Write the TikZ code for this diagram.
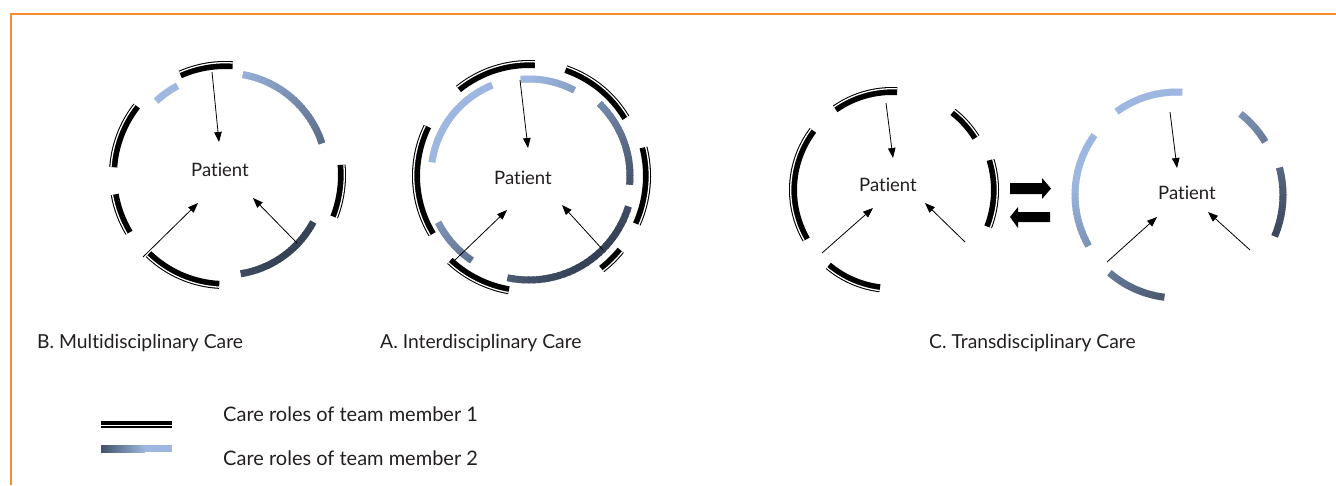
\documentclass[tikz,border=0pt]{standalone}
\usepackage{fontspec}
\setmainfont{Lato}[Ligatures={NoCommon}]
\usetikzlibrary{calc,arrows.meta}

\definecolor{framecol}{RGB}{245,140,50}
\definecolor{rolelight}{RGB}{157,183,224}
\definecolor{roledark}{RGB}{28,38,52}
\definecolor{inkcol}{RGB}{35,31,32}

\tikzset{
  roleone/.style={line width=8pt, draw=black},
  rolegap/.style={line width=1.3pt, draw=white},
  roletwo/.style={line width=7pt},
  rolearrow/.style={draw=black, line width=0.8pt, -{Triangle[length=10pt,width=7.5pt]}},
  patient/.style={font=\fontsize{18.5}{22}\selectfont, text=inkcol, inner sep=0pt},
  caption/.style={font=\fontsize{19.3}{23}\selectfont, text=inkcol, anchor=west, inner sep=0pt},
  legendtext/.style={font=\fontsize{20}{24}\selectfont, text=inkcol, anchor=west, inner sep=0pt},
  swaparrow/.style={fill=black},
}

% black double arc: centre x, centre y, radius, from angle, to angle
\newcommand{\memberone}[5]{%
  \pgfmathsetmacro{\rwhite}{#3+2.3}%
  \draw[roleone] ($(#1,#2)+(#4:#3)$) arc[start angle=#4, end angle=#5, radius=#3];
  \draw[rolegap] ($(#1,#2)+(#4:\rwhite)$) arc[start angle=#4, end angle=#5, radius=\rwhite];
}

% shaded arc, light blue at the top left turning dark towards the bottom right
\newcommand{\membertwo}[5]{%
  \pgfmathsetmacro{\arcStep}{(#5-#4)/30}%
  \foreach \k in {0,...,29}{%
    \pgfmathsetmacro{\arcA}{#4+\k*\arcStep}%
    \pgfmathsetmacro{\arcB}{min(\arcA+1.3*\arcStep,#5)}%
    \pgfmathsetmacro{\arcM}{\arcA+0.5*\arcStep}%
    \pgfmathtruncatemacro{\shadeP}{max(0,min(92,35+30*cos(\arcM)-35*sin(\arcM)))}%
    \draw[roletwo, draw=roledark!\shadeP!rolelight] ($(#1,#2)+(\arcA:#3)$) arc[start angle=\arcA, end angle=\arcB, radius=#3];
  }%
}

\begin{document}
\begin{tikzpicture}[x=1pt, y=1pt]
  \useasboundingbox (0,0) rectangle (1336,-485);
  \fill[white] (0,0) rectangle (1336,-485);

  % frame
  \draw[framecol, line width=1.6pt] (11,-485) -- (11,-14) -- (1336,-14);

  % ---------------- B. Multidisciplinary ----------------
  \memberone{225}{-175}{110}{86}{114}
  \memberone{225}{-175}{112}{142}{176}
  \memberone{225}{-175}{112}{190}{211}
  \memberone{225}{-175}{110}{226}{267}
  \memberone{225}{-175}{117}{-21}{5}
  \membertwo{225}{-175}{101}{118}{133}
  \membertwo{225}{-175}{102}{18}{80}
  \membertwo{225}{-175}{100}{279}{332}

  \node[patient] (pB) at (220,-170) {Patient};
  \coordinate (bT0) at (212,-72);  \coordinate (bT1) at (219,-142);
  \coordinate (bL0) at (143,-257); \coordinate (bL1) at (198,-203);
  \coordinate (bR0) at (297,-243); \coordinate (bR1) at (253,-198);
  \draw[rolearrow] (bT0) -- (bT1);
  \draw[rolearrow] (bL0) -- (bL1);
  \draw[rolearrow] (bR0) -- (bR1);

  % ---------------- A. Interdisciplinary ----------------
  \memberone{529}{-176}{112}{87}{129}
  \memberone{529}{-176}{113}{31}{71}
  \memberone{529}{-176}{118}{-24}{14}
  \memberone{529}{-176}{118}{308}{321}
  \memberone{529}{-176}{116}{227}{260}
  \memberone{529}{-176}{113}{154}{211}
  \membertwo{529}{-176}{98}{112}{172}
  \membertwo{529}{-176}{97}{62}{95}
  \membertwo{529}{-176}{101}{-5}{46}
  \membertwo{529}{-176}{104}{258}{343}
  \membertwo{529}{-176}{102}{207}{236}

  \node[patient] (pA) at (523,-178) {Patient};
  \coordinate (aT0) at (520,-80);  \coordinate (aT1) at (528,-148);
  \coordinate (aL0) at (455,-260); \coordinate (aL1) at (507,-210);
  \coordinate (aR0) at (603,-250); \coordinate (aR1) at (562,-205);
  \draw[rolearrow] (aT0) -- (aT1);
  \draw[rolearrow] (aL0) -- (aL1);
  \draw[rolearrow] (aR0) -- (aR1);

  % ---------------- C. Transdisciplinary ----------------
  \memberone{892}{-190}{99}{87}{125}
  \memberone{892}{-190}{99}{32}{52}
  \memberone{892}{-190}{103}{-21}{17}
  \memberone{892}{-190}{99}{230}{263}
  \memberone{892}{-190}{99}{143}{210}

  \node[patient] (pC1) at (888,-185) {Patient};
  \coordinate (cT0) at (886,-103); \coordinate (cT1) at (893,-158);
  \coordinate (cL0) at (822,-253); \coordinate (cL1) at (873,-208);
  \coordinate (cR0) at (965,-242); \coordinate (cR1) at (925,-203);
  \draw[rolearrow] (cT0) -- (cT1);
  \draw[rolearrow] (cL0) -- (cL1);
  \draw[rolearrow] (cR0) -- (cR1);

  % exchange arrows
  \fill[swaparrow] (1010,-183) -- (1042,-183) -- (1042,-178) -- (1051,-188.5)
    -- (1042,-199) -- (1042,-194) -- (1010,-194) -- cycle;
  \fill[swaparrow] (1050,-212) -- (1018,-212) -- (1018,-207) -- (1010,-217)
    -- (1018,-228) -- (1018,-222) -- (1050,-222) -- cycle;

  \membertwo{1177}{-195}{103}{87}{126}
  \membertwo{1177}{-195}{103}{31}{52}
  \membertwo{1177}{-195}{106}{-23}{15}
  \membertwo{1177}{-195}{103}{229}{263}
  \membertwo{1177}{-195}{102}{144}{210}

  \node[patient] (pC2) at (1187,-193) {Patient};
  \coordinate (dT0) at (1170,-112); \coordinate (dT1) at (1177,-168);
  \coordinate (dL0) at (1107,-262); \coordinate (dL1) at (1157,-217);
  \coordinate (dR0) at (1250,-250); \coordinate (dR1) at (1208,-212);
  \draw[rolearrow] (dT0) -- (dT1);
  \draw[rolearrow] (dL0) -- (dL1);
  \draw[rolearrow] (dR0) -- (dR1);

  % captions
  \node[caption] (capB) at (37,-343) {B. Multidisciplinary Care};
  \node[caption] (capA) at (380,-343) {A. Interdisciplinary Care};
  \node[caption] (capC) at (929,-343) {C. Transdisciplinary Care};

  % legend
  \fill[black] (101,-421) rectangle (172,-425);
  \fill[black] (101,-426.2) rectangle (172,-428);
  \shade[left color=roledark!70!rolelight, right color=rolelight] (101,-445) rectangle (145,-452);
  \fill[rolelight] (144.8,-445) rectangle (172,-452);
  \node[legendtext] (leg1) at (223,-414) {Care roles of team member 1};
  \node[legendtext] (leg2) at (223,-458) {Care roles of team member 2};
\end{tikzpicture}
\end{document}
